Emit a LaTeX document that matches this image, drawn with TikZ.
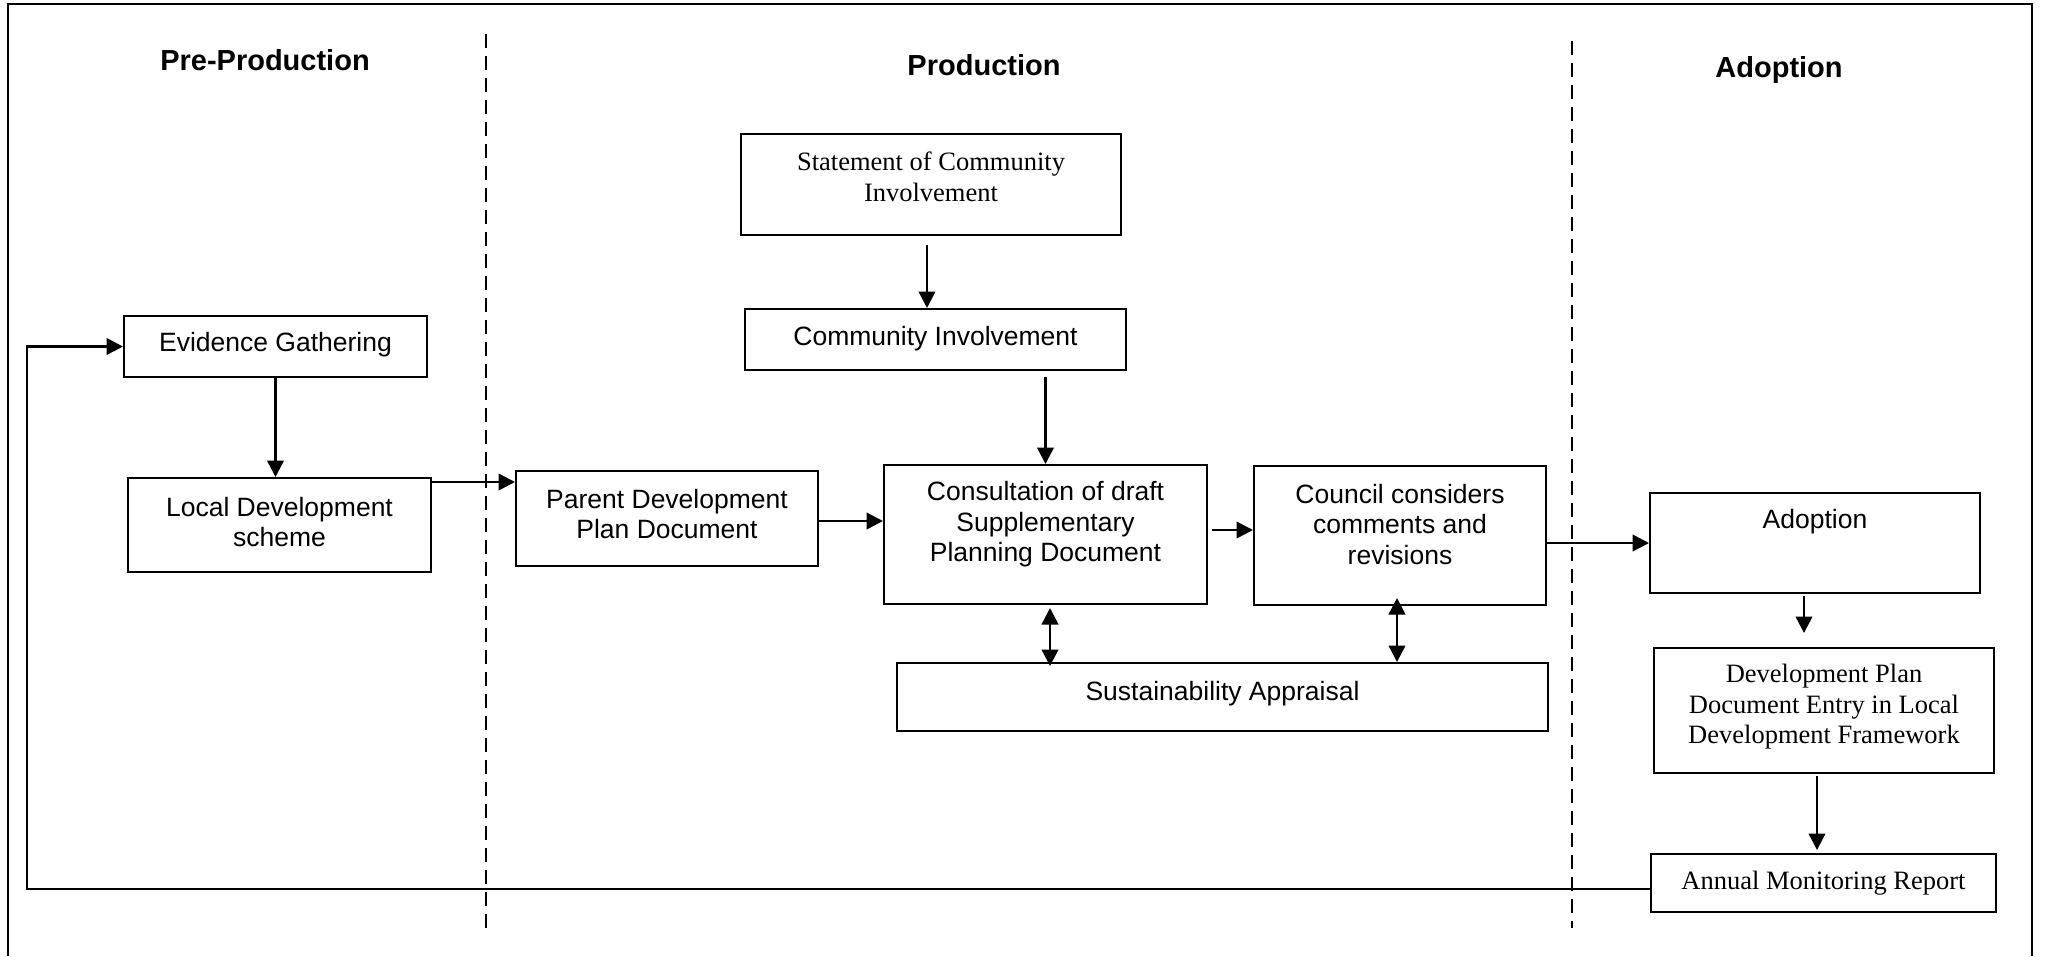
\documentclass[tikz,border=0pt]{standalone}
\usepackage{fontspec}
\setmainfont{Liberation Sans}
\newfontfamily\serifface{Liberation Serif}
\usetikzlibrary{arrows.meta,calc}
\begin{document}
\begin{tikzpicture}[x=1pt,y=-1pt,
  box/.style={draw, line width=2pt, rectangle, inner sep=0pt},
  txt/.style={align=center, inner sep=0pt, font=\fontsize{26.5}{30.5}\selectfont},
  stxt/.style={align=center, inner sep=0pt, font=\serifface\fontsize{26.5}{30.5}\selectfont},
  ttl/.style={inner sep=0pt, font=\bfseries\fontsize{29}{33}\selectfont},
  arr/.style={line width=2.5pt, -{Triangle[length=16.5pt,width=16.5pt]}},
  darr/.style={line width=2.5pt, {Triangle[length=16.5pt,width=16.5pt]}-{Triangle[length=16.5pt,width=16.5pt]}},
  sep/.style={line width=1.8pt, dash pattern=on 14pt off 8pt}
]
\useasboundingbox (0,0) rectangle (2045,956);
% frame
\draw[line width=2pt] (8,956) -- (8,4) -- (2032,4) -- (2032,956);
% separators
\draw[sep] (486,34) -- (486,930);
\draw[sep] (1572,41) -- (1572,928);
% titles
\node[ttl] (t1) at (265,60) {Pre-Production};
\node[ttl] (t2) at (984,65) {Production};
\node[ttl] (t3) at (1779,70) {Adoption};
% boxes
\node[box, minimum width=303pt, minimum height=61pt] (EG) at (275.5,346.5) {};
\node[box, minimum width=303pt, minimum height=94pt] (LDS) at (279.5,525) {};
\node[box, minimum width=302pt, minimum height=95pt] (PDPD) at (667,518.5) {};
\node[box, minimum width=380pt, minimum height=101pt] (SCI) at (931,184.5) {};
\node[box, minimum width=381pt, minimum height=61pt] (CI) at (935.5,339.5) {};
\node[box, minimum width=323pt, minimum height=139pt] (CON) at (1045.5,534.5) {};
\node[box, minimum width=292pt, minimum height=139pt] (COU) at (1400,535.5) {};
\node[box, minimum width=651pt, minimum height=68pt] (SA) at (1222.5,697) {};
\node[box, minimum width=330pt, minimum height=100pt] (AD) at (1815,543) {};
\node[box, minimum width=340pt, minimum height=125pt] (DPD) at (1824,710.5) {};
\node[box, minimum width=345pt, minimum height=58pt] (AMR) at (1823.5,883) {};
% texts
\node[txt] (EGt) at (275.5,345) {Evidence Gathering};
\node[txt] (LDSt) at (279.5,522) {Local Development\\scheme};
\node[txt] (PDPDt) at (667,514) {Parent Development\\Plan Document};
\node[stxt] (SCIt) at (931,177) {Statement of Community\\Involvement};
\node[txt] (CIt) at (935.5,339) {Community Involvement};
\node[txt] (CONt) at (1045.5,524.5) {Consultation of draft\\Supplementary\\Planning Document};
\node[txt] (COUt) at (1400,524.5) {Council considers\\comments and\\revisions};
\node[txt] (SAt) at (1222.5,694) {Sustainability Appraisal};
\node[txt] (ADt) at (1815,522) {Adoption};
\node[stxt] (DPDt) at (1824,707) {Development Plan\\Document Entry in Local\\Development Framework};
\node[stxt] (AMRt) at (1823.5,883) {Annual Monitoring Report};
% connectors
\draw[arr] (EG.south) -- (EG.south |- LDS.north);
\path (LDS.north east) ++(0,5) coordinate (c1);
\draw[arr] (c1) -- (c1 -| PDPD.west);
\path (SCI.south) ++(-4,9) coordinate (c2);
\draw[arr] (c2) -- (c2 |- CI.north);
\path (CI.south -| CON.north) ++(0,6) coordinate (c3);
\draw[arr] (c3) -- (CON.north);
\path (PDPD.east) ++(0,2.5) coordinate (c4);
\draw[arr] (c4) -- (c4 -| CON.west);
\path (CON.east) ++(4,-4.5) coordinate (c5);
\draw[arr] (c5) -- (c5 -| COU.west);
\draw[arr] (COU.east |- AD.west) -- (AD.west);
\path (CON.south) ++(4.5,3) coordinate (c6);
\path (c6 |- SA.north) ++(0,4) coordinate (c6b);
\draw[darr] (c6) -- (c6b);
\path (COU.south) ++(-3,-8) coordinate (c7);
\draw[darr] (c7) -- (c7 |- SA.north);
\path (AD.south) ++(-11,2) coordinate (c8);
\path (c8 |- DPD.north) ++(0,-14) coordinate (c8b);
\draw[arr] (c8) -- (c8b);
\path (DPD.south) ++(-7,2) coordinate (c9);
\path (c9 |- AMR.north) ++(0,-3) coordinate (c9b);
\draw[arr] (c9) -- (c9b);
\path (AMR.west) ++(0,6) coordinate (c10);
\coordinate (lp) at (27,0);
\draw[arr] (c10) -| (lp |- EG.west) -- (EG.west);
\end{tikzpicture}
\end{document}
